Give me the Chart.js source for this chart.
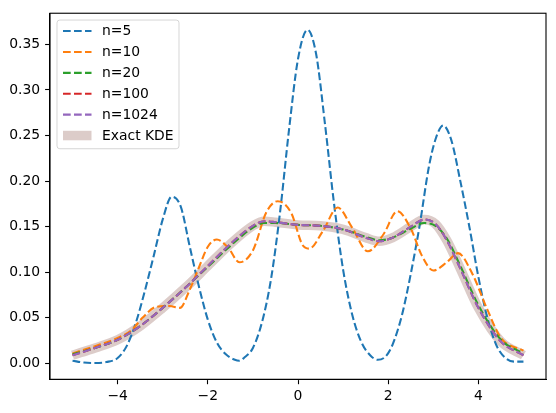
<!DOCTYPE html>
<html>
<head>
<meta charset="utf-8">
<script src="https://cdn.jsdelivr.net/npm/chart.js@4/dist/chart.umd.min.js"></script>
<style>
  html, body { margin: 0; padding: 0; background: #fff; }
  #wrap { width: 556px; height: 413px; }
</style>
</head>
<body>
<div id="wrap"><canvas id="myChart" width="556" height="413"></canvas></div>
<script>
// values
const xTicks = [-4, -2, 0, 2, 4];
const yTicks = [0, 0.05, 0.10, 0.15, 0.20, 0.25, 0.30, 0.35];

const n5X = [-5.0, -4.75, -4.5, -4.25, -4.0, -3.8, -3.6, -3.4, -3.2, -3.0, -2.8, -2.6, -2.4, -2.2, -2.0,
  -1.8, -1.6, -1.4, -1.3, -1.2, -1.0, -0.8, -0.6, -0.4, -0.2, 0.0, 0.21, 0.4, 0.6, 0.8, 1.0, 1.2, 1.4,
  1.6, 1.77, 1.95, 2.1, 2.3, 2.5, 2.7, 2.9, 3.05, 3.22, 3.4, 3.6, 3.8, 4.0, 4.2, 4.4, 4.6, 4.8, 5.0];
const n5Y = [0.003, 0.001, 0.0005, 0.0015, 0.006, 0.019, 0.044, 0.079, 0.118, 0.158, 0.183, 0.172, 0.128, 0.085, 0.048,
  0.023, 0.010, 0.004, 0.003, 0.006, 0.017, 0.045, 0.092, 0.165, 0.256, 0.334, 0.366, 0.340, 0.262, 0.175, 0.103, 0.054, 0.024,
  0.009, 0.004, 0.008, 0.021, 0.052, 0.098, 0.152, 0.215, 0.246, 0.261, 0.245, 0.200, 0.150, 0.095, 0.050, 0.020, 0.006, 0.002, 0.002];

const n10X = [-5.0, -4.5, -4.0, -3.7, -3.45, -3.15, -2.85, -2.62, -2.4, -2.2, -2.0, -1.8, -1.55, -1.3, -1.0,
  -0.7, -0.45, -0.15, 0.1, 0.25, 0.55, 0.88, 1.2, 1.55, 1.9, 2.2, 2.5, 2.75, 3.0, 3.3, 3.55, 3.85, 4.2, 4.5, 5.0];
const n10Y = [0.011, 0.019, 0.028, 0.036, 0.050, 0.062, 0.063, 0.061, 0.081, 0.105, 0.128, 0.136, 0.127, 0.111, 0.124,
  0.166, 0.178, 0.165, 0.130, 0.126, 0.145, 0.171, 0.149, 0.123, 0.142, 0.167, 0.148, 0.118, 0.102, 0.111, 0.121, 0.100, 0.059, 0.028, 0.014];

const kdeX = [-5, -4.5, -4, -3.5, -3, -2.5, -2, -1.5, -1, -0.75, -0.5, 0, 0.5, 1, 1.5, 1.8, 2.1, 2.5, 2.8, 3.05, 3.3, 3.6, 4, 4.5, 5];
const n20Y = [0.010, 0.017, 0.026, 0.041, 0.061, 0.083, 0.106, 0.129, 0.149, 0.154, 0.154, 0.152, 0.151, 0.147, 0.139,
  0.135, 0.138, 0.148, 0.154, 0.151, 0.137, 0.107, 0.064, 0.026, 0.011];
const n100Y = [0.009, 0.017, 0.026, 0.041, 0.061, 0.083, 0.107, 0.131, 0.151, 0.156, 0.155, 0.152, 0.151, 0.147, 0.138,
  0.134, 0.138, 0.150, 0.158, 0.153, 0.135, 0.104, 0.061, 0.024, 0.009];
const n1024Y = [0.009, 0.017, 0.026, 0.041, 0.061, 0.083, 0.107, 0.131, 0.151, 0.156, 0.155, 0.152, 0.151, 0.147, 0.138,
  0.134, 0.138, 0.150, 0.158, 0.153, 0.135, 0.104, 0.061, 0.024, 0.009];
const exactY = [0.009, 0.017, 0.026, 0.041, 0.061, 0.083, 0.107, 0.131, 0.151, 0.156, 0.155, 0.152, 0.151, 0.147, 0.138,
  0.134, 0.138, 0.150, 0.158, 0.153, 0.135, 0.104, 0.061, 0.024, 0.009];

const pts = (xs, ys) => xs.map((x, i) => ({ x: x, y: ys[i] }));

const FONT = 'DejaVu Sans';
const FS = 13.9;
const DASH = [7.7, 3.3];

// lower order is drawn on top, so later series sit above earlier ones
const dashed = (label, color, xs, ys, order) => ({
  label: label,
  data: pts(xs, ys),
  borderColor: color,
  borderWidth: 2.08,
  borderDash: DASH,
  pointRadius: 0,
  cubicInterpolationMode: 'monotone',
  fill: false,
  order: order,
});

const data = {
  datasets: [
    dashed('n=5', '#1f77b4', n5X, n5Y, 6),
    dashed('n=10', '#ff7f0e', n10X, n10Y, 5),
    dashed('n=20', '#2ca02c', kdeX, n20Y, 4),
    dashed('n=100', '#d62728', kdeX, n100Y, 3),
    dashed('n=1024', '#9467bd', kdeX, n1024Y, 2),
    {
      label: 'Exact KDE',
      data: pts(kdeX, exactY),
      borderColor: 'rgba(140, 86, 75, 0.3)',
      borderWidth: 9.5,
      borderCapStyle: 'butt',
      pointRadius: 0,
      cubicInterpolationMode: 'monotone',
      fill: false,
      order: 10,
    },
  ],
};

// top and right spines
const frame = {
  id: 'frame',
  afterDatasetsDraw(chart) {
    const { ctx, chartArea: { left, top, right, bottom } } = chart;
    ctx.save();
    ctx.strokeStyle = '#000';
    ctx.lineWidth = 1.1;
    ctx.strokeRect(left, top, right - left, bottom - top);
    ctx.restore();
  }
};

// matplotlib style legend in the upper left
const mplLegend = {
  id: 'mplLegend',
  afterDraw(chart) {
    const { ctx, chartArea: { left, top } } = chart;
    const x0 = left + 7, y0 = top + 6.8, w = 122, h = 128.7;
    const r = 2.8;
    ctx.save();
    ctx.beginPath();
    ctx.moveTo(x0 + r, y0);
    ctx.arcTo(x0 + w, y0, x0 + w, y0 + h, r);
    ctx.arcTo(x0 + w, y0 + h, x0, y0 + h, r);
    ctx.arcTo(x0, y0 + h, x0, y0, r);
    ctx.arcTo(x0, y0, x0 + w, y0, r);
    ctx.closePath();
    ctx.fillStyle = 'rgba(255,255,255,0.8)';
    ctx.fill();
    ctx.strokeStyle = 'rgba(204,204,204,0.8)';
    ctx.lineWidth = 1;
    ctx.stroke();

    ctx.font = FS + 'px "' + FONT + '"';
    ctx.textBaseline = 'middle';
    ctx.textAlign = 'left';
    chart.data.datasets.forEach((ds, i) => {
      const cy = y0 + 11 + i * 20.9;
      ctx.beginPath();
      ctx.strokeStyle = ds.borderColor;
      ctx.lineWidth = ds.borderWidth;
      ctx.lineCap = 'butt';
      ctx.setLineDash(ds.borderDash || []);
      ctx.moveTo(x0 + 6, cy);
      ctx.lineTo(x0 + 34.5, cy);
      ctx.stroke();
      ctx.setLineDash([]);
      ctx.fillStyle = '#000';
      ctx.fillText(ds.label, x0 + 45, cy + 0.5);
    });
    ctx.restore();
  }
};

const config = {
  type: 'line',
  data: data,
  options: {
    responsive: false,
    animation: false,
    devicePixelRatio: 1,
    layout: { padding: { top: 10.7, right: 10, left: 0, bottom: 0 } },
    scales: {
      x: {
        type: 'linear',
        min: -5.5,
        max: 5.5,
        afterBuildTicks: (scale) => { scale.ticks = xTicks.map(v => ({ value: v })); },
        afterFit: (scale) => { scale.height = 33.7; },
        grid: { drawOnChartArea: false, drawTicks: true, tickLength: 4.9, tickColor: '#000', tickWidth: 1.1 },
        border: { display: true, color: '#000', width: 1.1 },
        ticks: {
          padding: 3.5,
          color: '#000',
          maxRotation: 0,
          autoSkip: false,
          font: { family: FONT, size: FS },
          callback: (v) => (v < 0 ? '\u2212' + Math.abs(v) : String(v)),
        },
      },
      y: {
        type: 'linear',
        min: -0.0174,
        max: 0.3842,
        afterBuildTicks: (scale) => { scale.ticks = yTicks.map(v => ({ value: v })); },
        afterFit: (scale) => { scale.width = 50; },
        grid: { drawOnChartArea: false, drawTicks: true, tickLength: 4.9, tickColor: '#000', tickWidth: 1.1 },
        border: { display: true, color: '#000', width: 1.1 },
        ticks: {
          padding: 4.9,
          color: '#000',
          autoSkip: false,
          font: { family: FONT, size: FS },
          callback: (v) => v.toFixed(2),
        },
      },
    },
    plugins: {
      legend: { display: false },
      tooltip: { enabled: false },
    },
  },
  plugins: [frame, mplLegend],
};

const ctx = document.getElementById('myChart').getContext('2d');
new Chart(ctx, config);
</script>
</body>
</html>
